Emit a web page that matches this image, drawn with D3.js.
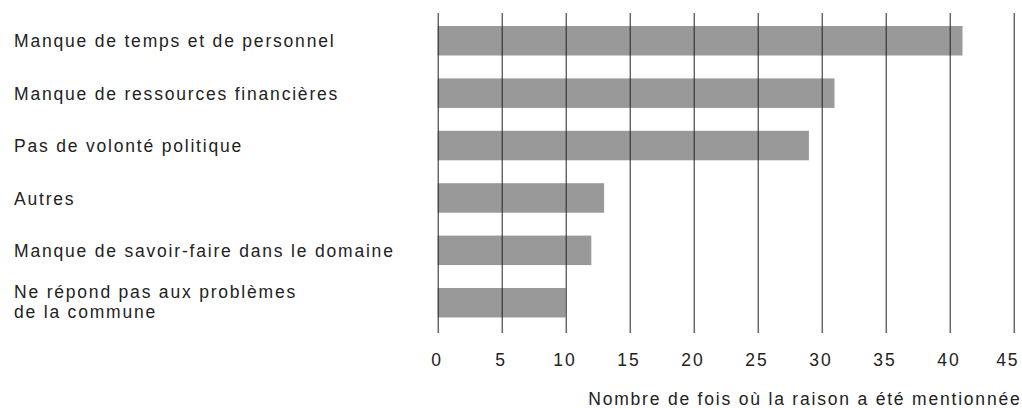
<!DOCTYPE html>
<html>
<head>
<meta charset="utf-8">
<script src="https://cdn.jsdelivr.net/npm/d3@7"></script>
<style>
  html, body { margin: 0; padding: 0; background: #fff; }
  svg { display: block; }
  text { font-family: "Liberation Sans", Arial, sans-serif; font-size: 17.5px; fill: #222; letter-spacing: 1.8px; }
</style>
</head>
<body>
<svg id="chart" width="1022" height="408"></svg>
<script>
const categories = [
  "Manque de temps et de personnel",
  "Manque de ressources financières",
  "Pas de volonté politique",
  "Autres",
  "Manque de savoir-faire dans le domaine",
  "Ne répond pas aux problèmes\nde la commune"
];
const values = [41, 31, 29, 13, 12, 10];
const tickValues = [0, 5, 10, 15, 20, 25, 30, 35, 40, 45];
const axisTitle = "Nombre de fois où la raison a été mentionnée";

const svg = d3.select("#chart");

const x = d3.scaleLinear().domain([0, 45]).range([437.7, 1013.7]);
const y = d3.scaleBand().domain(categories).range([10.3, 333.2])
  .paddingInner(0.437).paddingOuter(0.3);

const gridTop = 13, gridBottom = 333;

// bars
svg.append("g").selectAll("rect")
  .data(values)
  .join("rect")
  .attr("x", x(0))
  .attr("y", (d, i) => y(categories[i]))
  .attr("width", d => x(d) - x(0))
  .attr("height", y.bandwidth())
  .attr("fill", "#999999");

// axis with gridlines drawn over the bars
const axis = d3.axisBottom(x)
  .tickValues(tickValues)
  .tickFormat(d3.format("d"))
  .tickSize(-(gridBottom - gridTop))
  .tickPadding(20.6);

const gAxis = svg.append("g")
  .attr("transform", `translate(0,${gridBottom})`)
  .call(axis);
gAxis.attr("font-family", null).attr("font-size", null);
gAxis.select(".domain").remove();
gAxis.selectAll(".tick line").attr("stroke", "#222").attr("stroke-width", 1);
gAxis.selectAll(".tick text")
  .attr("fill", "#222")
  .attr("dx", (d, i, n) => i === n.length - 1 ? -6.5 : -1.3);

// category labels
const labels = svg.append("g").selectAll("text")
  .data(categories)
  .join("text")
  .attr("x", 14)
  .attr("y", d => y(d) + y.bandwidth() / 2);
labels.each(function(d) {
  const lines = d.split("\n");
  const t = d3.select(this);
  const lh = 20;
  lines.forEach((ln, j) => {
    t.append("tspan")
      .attr("x", 14)
      .attr("dy", j === 0 ? (6.6 - (lines.length - 1) * lh / 2 - 1.5 * (lines.length - 1)) : lh)
      .text(ln);
  });
});

// axis title
svg.append("text")
  .attr("x", 1021.5)
  .attr("y", 404.5)
  .attr("text-anchor", "end")
  .text(axisTitle);
</script>
</body>
</html>
